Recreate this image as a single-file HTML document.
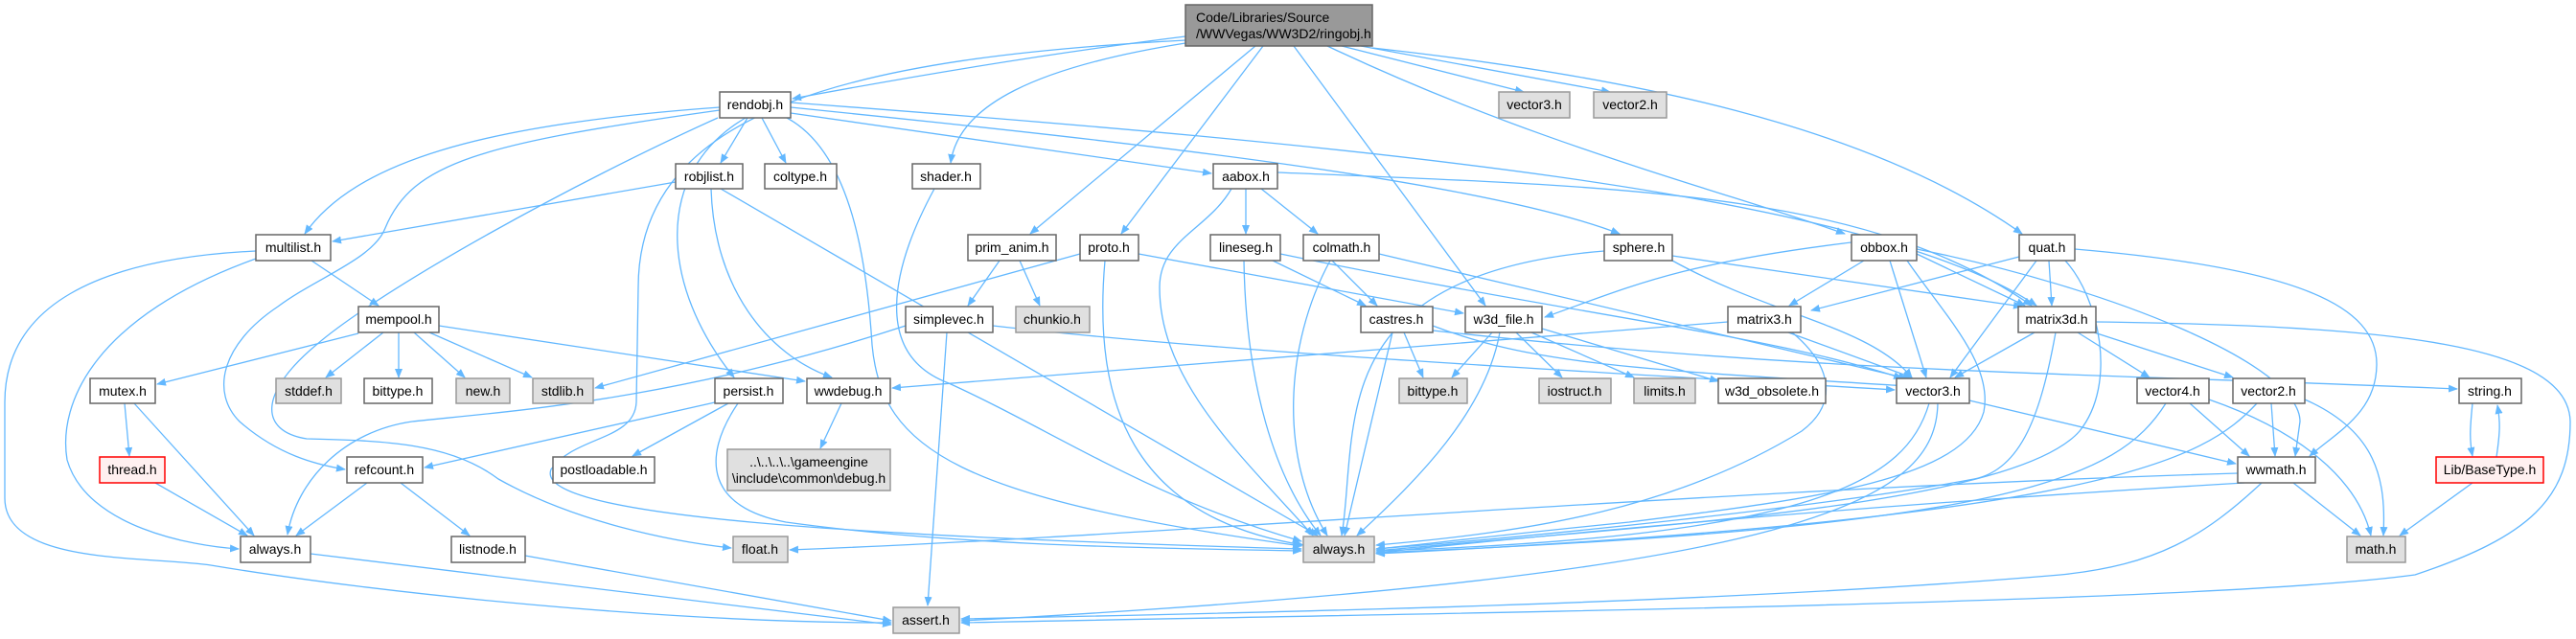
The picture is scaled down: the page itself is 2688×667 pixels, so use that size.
<!DOCTYPE html>
<html><head><meta charset="utf-8"><style>
html,body{margin:0;padding:0;background:#fff;}
svg{display:block;}
text{font-family:"Liberation Sans",Arial,sans-serif;font-size:14px;fill:#000;}
.e{fill:none;stroke:#63b8ff;stroke-width:1.3;marker-end:url(#a);}
.w{fill:#fff;stroke:#666;stroke-width:1.5;}
.g{fill:#e0e0e0;stroke:#999;stroke-width:1.5;}
.r{fill:#fff0f0;stroke:#f00;stroke-width:1.5;}
</style></head><body>
<svg width="2688" height="667" viewBox="0 0 2688 667" xmlns="http://www.w3.org/2000/svg">
<defs><marker id="a" markerWidth="10" markerHeight="8" refX="9" refY="4" orient="auto" markerUnits="userSpaceOnUse"><path d="M0,0 L10,4 L0,8 z" fill="#63b8ff"/></marker></defs>
<g>
<!-- main edges -->
<path class="e" d="M1237,38 C1100,55 950,80 827,103"/>
<path class="e" d="M1400,48 L1590,96"/>
<path class="e" d="M1420,48 L1680,96"/>
<path class="e" d="M1237,45 C1080,70 1000,110 992,170"/>
<path class="e" d="M1310,48 L1075,244"/>
<path class="e" d="M1318,48 L1170,244"/>
<path class="e" d="M1350,48 L1550,319"/>
<path class="e" d="M1385,48 C1600,150 1800,200 1925,244"/>
<path class="e" d="M1432,50 C1700,80 1950,130 2110,244"/>
<path class="e" d="M1237,42 C900,60 666,110 666,300 L664,420 C662,460 600,455 575,490 C555,540 900,560 1358,573"/>
<!-- rendobj -->
<path class="e" d="M751,112 C500,130 370,170 318,244"/>
<path class="e" d="M780,123 L752,170"/>
<path class="e" d="M795,123 L820,170"/>
<path class="e" d="M751,115 C500,150 430,170 402,238 C390,270 330,290 290,320 C230,360 220,410 250,440 C290,475 330,485 360,490"/>
<path class="e" d="M749,123 C600,190 400,300 330,360 C270,410 270,450 320,458 C400,460 470,462 520,500 C600,545 700,565 763,572"/>
<path class="e" d="M778,123 C680,180 690,300 766,394"/>
<path class="e" d="M825,118 L1264,181"/>
<path class="e" d="M825,112 C1200,150 1550,190 1690,244"/>
<path class="e" d="M821,123 C890,160 905,280 910,360 C920,470 1000,520 1358,570"/>
<path class="e" d="M825,107 C1400,150 1950,200 2125,319"/>
<!-- robjlist -->
<path class="e" d="M705,190 L347,252"/>
<path class="e" d="M742,197 C745,300 800,370 868,394"/>
<path class="e" d="M752,197 L1375,559"/>
<!-- multilist -->
<path class="e" d="M325,272 L395,319"/>
<path class="e" d="M267,262 C100,270 5,320 5,420 L5,520 C5,590 150,580 220,590 C400,620 700,650 930,650"/>
<path class="e" d="M267,270 C100,330 60,420 70,480 C90,550 200,570 249,573"/>
<!-- mempool -->
<path class="e" d="M374,348 L164,401"/>
<path class="e" d="M400,347 L340,394"/>
<path class="e" d="M416,347 L416,394"/>
<path class="e" d="M432,347 L485,394"/>
<path class="e" d="M448,347 L555,394"/>
<path class="e" d="M458,340 L840,398"/>
<!-- lower left -->
<path class="e" d="M130,421 L135,476"/>
<path class="e" d="M140,421 L265,559"/>
<path class="e" d="M162,504 L258,559"/>
<path class="e" d="M383,504 L309,559"/>
<path class="e" d="M418,504 L490,559"/>
<path class="e" d="M746,420 L443,488"/>
<path class="e" d="M760,421 L660,476"/>
<path class="e" d="M770,421 C730,480 740,530 820,545 C1000,570 1200,572 1358,575"/>
<path class="e" d="M878,421 L856,468"/>
<path class="e" d="M324,578 L930,652"/>
<path class="e" d="M548,580 L930,648"/>
<!-- middle -->
<path class="e" d="M975,197 C930,280 910,370 990,400 C1100,450 1200,520 1358,565"/>
<path class="e" d="M1043,272 L1010,319"/>
<path class="e" d="M1064,272 L1085,319"/>
<path class="e" d="M1127,265 L621,405"/>
<path class="e" d="M1153,272 C1140,420 1180,540 1360,569"/>
<path class="e" d="M1188,265 L1527,327"/>
<path class="e" d="M988,347 L968,632"/>
<path class="e" d="M945,340 C700,420 520,430 430,440 C360,450 310,500 300,558"/>
<path class="e" d="M1036,340 C1300,370 1700,390 1977,407"/>
<path class="e" d="M1300,197 L1300,244"/>
<path class="e" d="M1316,197 L1375,244"/>
<path class="e" d="M1285,197 C1260,240 1210,250 1210,300 C1210,400 1300,480 1370,559"/>
<path class="e" d="M1333,180 C1700,195 1950,200 2120,319"/>
<path class="e" d="M1328,272 L1425,319"/>
<path class="e" d="M1298,272 C1300,400 1330,500 1378,559"/>
<path class="e" d="M1336,265 C1650,330 1850,350 1985,395"/>
<path class="e" d="M1390,272 L1437,319"/>
<path class="e" d="M1388,272 C1340,360 1335,480 1385,559"/>
<path class="e" d="M1439,265 L1990,395"/>
<path class="e" d="M1674,262 C1450,280 1420,380 1410,460 C1405,500 1405,530 1400,559"/>
<path class="e" d="M1745,267 L2110,320"/>
<path class="e" d="M1745,272 C1850,330 1950,340 1995,394"/>
<path class="e" d="M1465,347 L1485,394"/>
<path class="e" d="M1453,347 L1403,559"/>
<path class="e" d="M1495,340 C1600,380 1700,385 1990,403"/>
<path class="e" d="M1495,345 C1900,390 2200,390 2564,406"/>
<path class="e" d="M1557,347 L1515,394"/>
<path class="e" d="M1582,347 L1630,394"/>
<path class="e" d="M1598,347 L1705,394"/>
<path class="e" d="M1609,343 L1793,398"/>
<path class="e" d="M1565,347 C1550,430 1480,500 1416,559"/>
<!-- right -->
<path class="e" d="M1932,253 C1750,275 1700,300 1612,331"/>
<path class="e" d="M1945,272 L1867,319"/>
<path class="e" d="M2000,265 L2113,319"/>
<path class="e" d="M1972,272 L2010,394"/>
<path class="e" d="M1990,272 C2030,330 2080,380 2070,430 C2050,500 1900,520 1700,545 C1550,560 1470,570 1436,573"/>
<path class="e" d="M2000,260 C2200,300 2400,380 2400,440 L2395,476"/>
<path class="e" d="M2107,268 L1890,324"/>
<path class="e" d="M2138,272 L2141,319"/>
<path class="e" d="M2125,272 L2035,394"/>
<path class="e" d="M2165,260 C2400,280 2480,320 2480,380 C2480,430 2440,450 2410,476"/>
<path class="e" d="M2155,272 C2190,310 2210,400 2170,450 C2100,530 1700,550 1436,575"/>
<path class="e" d="M1866,347 L1995,394"/>
<path class="e" d="M1803,336 L931,405"/>
<path class="e" d="M1870,347 C1910,380 1920,420 1880,450 C1750,530 1600,555 1436,569"/>
<path class="e" d="M2123,347 L2040,394"/>
<path class="e" d="M2168,347 L2243,394"/>
<path class="e" d="M2185,347 L2330,394"/>
<path class="e" d="M2145,347 C2130,430 2110,490 2060,500 C1900,530 1600,560 1436,573"/>
<path class="e" d="M2187,336 C2500,340 2680,360 2682,440 C2682,520 2640,560 2520,600 C2300,630 1500,640 1003,650"/>
<path class="e" d="M2055,418 L2333,484"/>
<path class="e" d="M2013,421 C1990,500 1900,560 1436,575"/>
<path class="e" d="M2022,421 C2020,520 1900,600 1003,648"/>
<path class="e" d="M2260,421 C2210,500 2100,550 1436,577"/>
<path class="e" d="M2285,421 L2347,476"/>
<path class="e" d="M2305,417 C2400,450 2460,500 2474,559"/>
<path class="e" d="M2355,421 C2300,480 2200,540 1436,578"/>
<path class="e" d="M2370,421 L2374,476"/>
<path class="e" d="M2405,417 C2480,450 2490,500 2487,559"/>
<path class="e" d="M2335,494 C1800,510 1200,560 824,574"/>
<path class="e" d="M2342,504 C1900,530 1600,560 1436,577"/>
<path class="e" d="M2360,504 C2300,560 2250,590 2150,600 C1800,630 1300,640 1003,646"/>
<path class="e" d="M2393,504 L2463,559"/>
<path class="e" d="M2580,421 C2577,450 2577,460 2580,476"/>
<path class="e" d="M2605,477 C2609,450 2609,440 2606,423"/>
<path class="e" d="M2580,504 L2504,559"/>
</g>
<g>
<rect class="w" x="1237" y="5" width="195" height="43" style="fill:#999"/>
<text x="1248" y="23">Code/Libraries/Source</text><text x="1248" y="40">/WWVegas/WW3D2/ringobj.h</text>
</g>
<g text-anchor="middle">
<rect class="w" x="751" y="96" width="74" height="27"/><text x="788" y="114">rendobj.h</text>
<rect class="g" x="1564" y="96" width="74" height="27"/><text x="1601" y="114">vector3.h</text>
<rect class="g" x="1663" y="96" width="76" height="27"/><text x="1701" y="114">vector2.h</text>
<rect class="w" x="705" y="171" width="70" height="26"/><text x="740" y="189">robjlist.h</text>
<rect class="w" x="798" y="171" width="75" height="26"/><text x="835" y="189">coltype.h</text>
<rect class="w" x="952" y="171" width="71" height="26"/><text x="987" y="189">shader.h</text>
<rect class="w" x="1266" y="171" width="67" height="26"/><text x="1300" y="189">aabox.h</text>
<rect class="w" x="267" y="245" width="78" height="27"/><text x="306" y="263">multilist.h</text>
<rect class="w" x="1010" y="245" width="92" height="27"/><text x="1056" y="263">prim_anim.h</text>
<rect class="w" x="1127" y="245" width="61" height="27"/><text x="1157" y="263">proto.h</text>
<rect class="w" x="1263" y="245" width="73" height="27"/><text x="1300" y="263">lineseg.h</text>
<rect class="w" x="1360" y="245" width="79" height="27"/><text x="1400" y="263">colmath.h</text>
<rect class="w" x="1674" y="245" width="71" height="27"/><text x="1710" y="263">sphere.h</text>
<rect class="w" x="1932" y="245" width="68" height="27"/><text x="1966" y="263">obbox.h</text>
<rect class="w" x="2107" y="245" width="58" height="27"/><text x="2136" y="263">quat.h</text>
<rect class="w" x="374" y="320" width="84" height="27"/><text x="416" y="338">mempool.h</text>
<rect class="w" x="945" y="320" width="91" height="27"/><text x="990" y="338">simplevec.h</text>
<rect class="g" x="1060" y="320" width="77" height="27"/><text x="1098" y="338">chunkio.h</text>
<rect class="w" x="1420" y="320" width="75" height="27"/><text x="1457" y="338">castres.h</text>
<rect class="w" x="1529" y="320" width="80" height="27"/><text x="1569" y="338">w3d_file.h</text>
<rect class="w" x="1803" y="320" width="76" height="27"/><text x="1841" y="338">matrix3.h</text>
<rect class="w" x="2106" y="320" width="81" height="27"/><text x="2146" y="338">matrix3d.h</text>
<rect class="w" x="94" y="395" width="68" height="26"/><text x="128" y="413">mutex.h</text>
<rect class="g" x="288" y="395" width="68" height="26"/><text x="322" y="413">stddef.h</text>
<rect class="w" x="380" y="395" width="71" height="26"/><text x="415" y="413">bittype.h</text>
<rect class="g" x="476" y="395" width="56" height="26"/><text x="504" y="413">new.h</text>
<rect class="g" x="556" y="395" width="63" height="26"/><text x="587" y="413">stdlib.h</text>
<rect class="w" x="746" y="395" width="71" height="26"/><text x="781" y="413">persist.h</text>
<rect class="w" x="842" y="395" width="87" height="26"/><text x="885" y="413">wwdebug.h</text>
<rect class="g" x="1460" y="395" width="71" height="26"/><text x="1495" y="413">bittype.h</text>
<rect class="g" x="1606" y="395" width="75" height="26"/><text x="1643" y="413">iostruct.h</text>
<rect class="g" x="1705" y="395" width="64" height="26"/><text x="1737" y="413">limits.h</text>
<rect class="w" x="1793" y="395" width="112" height="26"/><text x="1849" y="413">w3d_obsolete.h</text>
<rect class="w" x="1979" y="395" width="76" height="26"/><text x="2017" y="413">vector3.h</text>
<rect class="w" x="2230" y="395" width="75" height="26"/><text x="2267" y="413">vector4.h</text>
<rect class="w" x="2330" y="395" width="75" height="26"/><text x="2367" y="413">vector2.h</text>
<rect class="w" x="2566" y="395" width="65" height="26"/><text x="2598" y="413">string.h</text>
<rect class="r" x="104" y="477" width="68" height="27"/><text x="138" y="495">thread.h</text>
<rect class="w" x="362" y="477" width="79" height="27"/><text x="401" y="495">refcount.h</text>
<rect class="w" x="577" y="477" width="106" height="27"/><text x="630" y="495">postloadable.h</text>
<rect class="g" x="759" y="469" width="170" height="43"/><text x="844" y="487">..\..\..\..\gameengine</text><text x="844" y="504">\include\common\debug.h</text>
<rect class="w" x="2335" y="477" width="81" height="27"/><text x="2375" y="495">wwmath.h</text>
<rect class="r" x="2542" y="477" width="112" height="27"/><text x="2598" y="495">Lib/BaseType.h</text>
<rect class="w" x="251" y="560" width="73" height="27"/><text x="287" y="578">always.h</text>
<rect class="w" x="471" y="560" width="77" height="27"/><text x="509" y="578">listnode.h</text>
<rect class="g" x="765" y="560" width="57" height="27"/><text x="793" y="578">float.h</text>
<rect class="g" x="1360" y="560" width="74" height="27"/><text x="1397" y="578">always.h</text>
<rect class="g" x="2449" y="560" width="61" height="27"/><text x="2479" y="578">math.h</text>
<rect class="g" x="932" y="634" width="69" height="27"/><text x="966" y="652">assert.h</text>
</g>
</svg>
</body></html>
